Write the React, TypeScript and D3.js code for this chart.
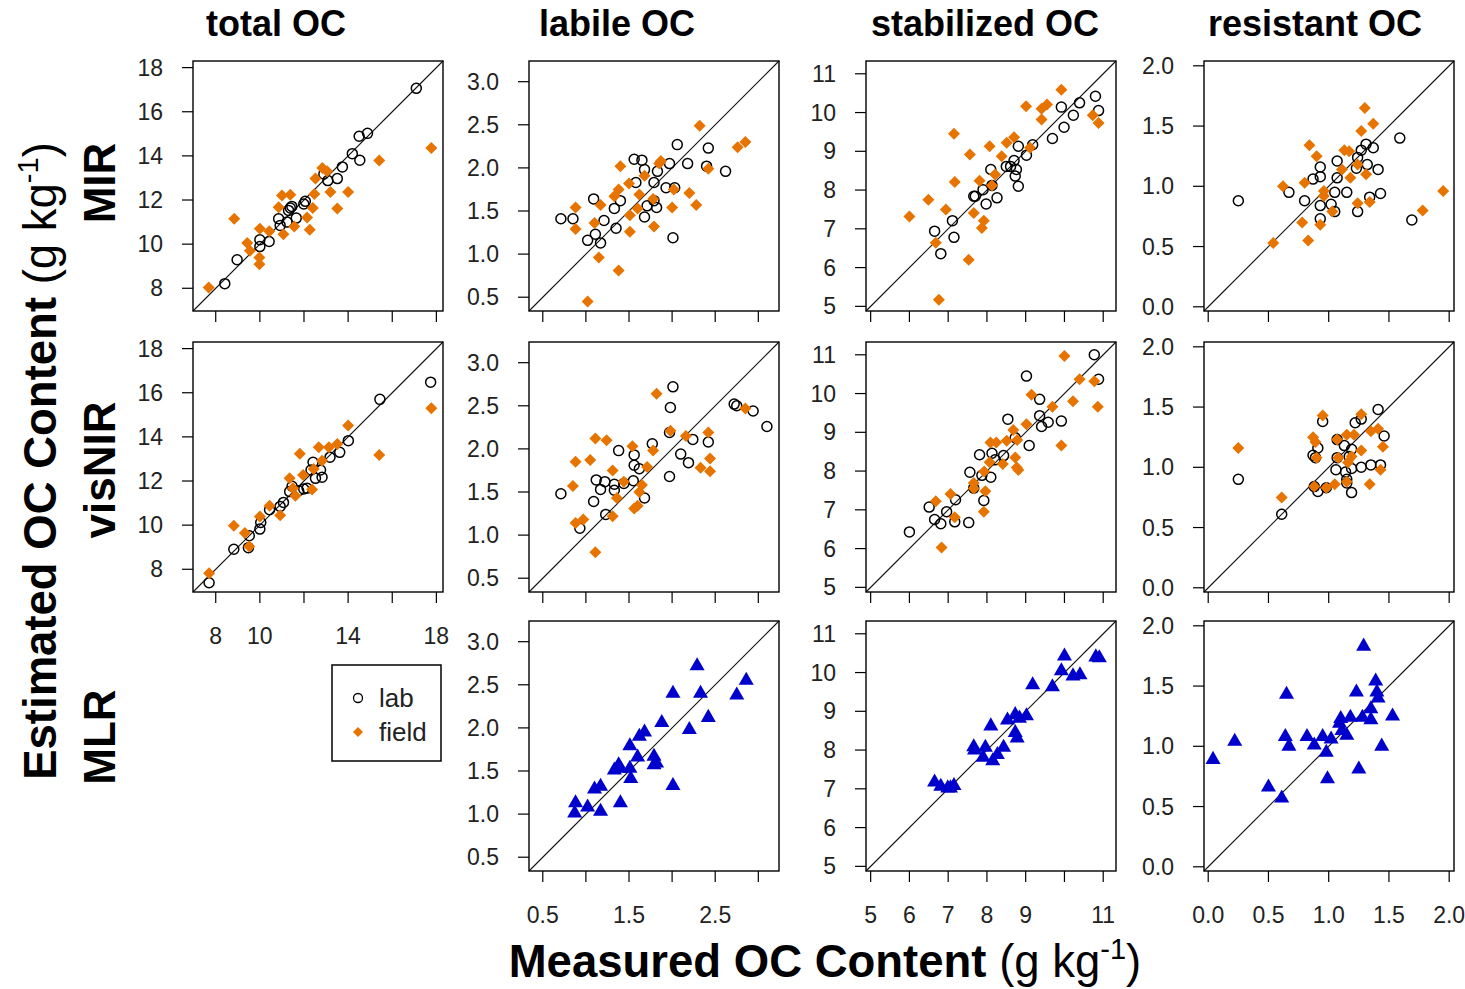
import React from "react";
import * as d3 from "d3";

// ---------- categories / labels ----------
const variableTitles = ["total OC", "labile OC", "stabilized OC", "resistant OC"];
const methodLabels = ["MIR", "visNIR", "MLR"];
const legendLabels = ["lab", "field"];

// axis domains per variable (same for measured & estimated)
const domainTotal = [6.97, 18.3];
const domainLabile = [0.34, 3.24];
const domainStab = [4.88, 11.33];
const domainResist = [-0.035, 2.04];

const ticksTotal = [8, 10, 12, 14, 16, 18];
const ticksLabile = [0.5, 1.0, 1.5, 2.0, 2.5, 3.0];
const ticksStab = [5, 6, 7, 8, 9, 10, 11];
const ticksResist = [0, 0.5, 1.0, 1.5, 2.0];

const yLabelsTotal = ["8", "10", "12", "14", "16", "18"];
const yLabelsLabile = ["0.5", "1.0", "1.5", "2.0", "2.5", "3.0"];
const yLabelsStab = ["5", "6", "7", "8", "9", "10", "11"];
const yLabelsResist = ["0.0", "0.5", "1.0", "1.5", "2.0"];

const xLabelsTotal = ["8", "10", "", "14", "", "18"];
const xLabelsLabile = ["0.5", "", "1.5", "", "2.5", ""];
const xLabelsStab = ["5", "6", "7", "8", "9", "", "11"];
const xLabelsResist = ["0.0", "0.5", "1.0", "1.5", "2.0"];

// ---------- data: [measured, estimated] ----------
const mirTotalLab = [
  [17.09, 17.06], [14.5, 14.89], [14.88, 15.02], [14.19, 14.1], [14.53, 13.8], [13.74, 13.5],
  [13.51, 12.97], [13.08, 12.88], [12.9, 13.18], [12.06, 11.94], [11.99, 11.82], [11.38, 11.64],
  [11.3, 11.53], [11.65, 11.18], [10.85, 11.15], [10.92, 10.85], [11.23, 11.0], [10.0, 10.2],
  [10.42, 10.12], [10.0, 9.89], [8.97, 9.29], [8.41, 8.21], [11.45, 11.71],
];
const mirTotalField = [
  [17.77, 14.36], [15.41, 13.79], [12.83, 13.45], [13.05, 13.3], [12.52, 12.97], [13.2, 12.36],
  [14.0, 12.36], [12.47, 12.27], [11.0, 12.21], [11.38, 12.24], [13.51, 11.61], [12.4, 11.64],
  [10.85, 11.67], [12.14, 11.21], [8.84, 11.15], [11.56, 10.8], [11.07, 10.45], [12.26, 10.65],
  [10.0, 10.7], [10.43, 10.58], [9.43, 10.05], [9.55, 9.7], [9.98, 9.39], [9.98, 9.09], [7.68, 8.03],
];
const mirLabileLab = [
  [0.71, 1.41], [0.85, 1.41], [1.02, 1.16], [1.11, 1.23], [1.17, 1.13], [1.21, 1.39], [1.09, 1.64],
  [1.35, 1.3], [1.33, 1.53], [1.4, 1.62], [1.56, 2.1], [1.65, 2.09], [1.68, 1.98], [1.58, 1.83],
  [1.68, 1.43], [1.71, 1.56], [1.79, 1.62], [1.82, 1.54], [1.79, 1.83], [1.83, 1.96], [1.93, 1.77],
  [2.03, 1.77], [1.97, 2.05], [2.06, 2.27], [2.01, 1.19], [2.18, 2.05], [2.42, 2.23], [2.4, 2.02],
  [2.62, 1.96],
];
const mirLabileField = [
  [0.88, 1.54], [0.88, 1.29], [1.1, 1.36], [1.17, 1.57], [1.15, 0.96], [1.38, 0.81], [1.02, 0.45],
  [1.4, 2.02], [1.33, 1.67], [1.38, 1.75], [1.51, 1.45], [1.51, 1.26], [1.5, 1.82], [1.62, 1.69],
  [1.6, 1.53], [1.68, 1.91], [1.79, 1.32], [1.78, 1.64], [1.85, 2.05], [1.87, 2.08], [2.0, 1.54],
  [2.02, 1.75], [2.2, 1.71], [2.28, 1.57], [2.32, 2.49], [2.42, 1.99], [2.76, 2.24], [2.85, 2.3],
];
const mirStabLab = [
  [10.8, 10.42], [10.88, 10.05], [10.39, 10.25], [10.23, 9.93], [9.92, 10.14], [9.99, 9.62],
  [9.69, 9.33], [9.18, 9.17], [9.02, 8.9], [8.81, 9.13], [8.7, 8.76], [8.61, 8.61], [8.5, 8.61],
  [8.76, 8.53], [8.73, 8.36], [8.81, 8.1], [8.1, 8.53], [8.13, 8.12], [7.9, 8.01], [7.66, 7.84],
  [7.7, 7.84], [8.26, 7.8], [7.98, 7.64], [7.11, 7.21], [6.65, 6.94], [7.15, 6.78], [6.81, 6.36],
];
const mirStabField = [
  [9.92, 10.59], [9.01, 10.16], [9.41, 10.1], [9.55, 10.21], [9.41, 9.82], [10.73, 9.93],
  [10.88, 9.73], [7.15, 9.45], [8.7, 9.36], [8.51, 9.22], [8.07, 9.13], [7.56, 8.92], [8.38, 8.87],
  [9.11, 9.09], [8.21, 8.4], [7.81, 8.24], [7.17, 8.21], [8.13, 8.12], [6.49, 7.75], [6.94, 7.5],
  [6.0, 7.32], [7.66, 7.41], [7.92, 7.21], [7.87, 7.02], [6.68, 6.64], [7.53, 6.2], [6.76, 5.17],
];
const mirResistLab = [
  [0.25, 0.88], [0.67, 0.95], [0.8, 0.88], [0.87, 1.06], [0.93, 1.16], [0.93, 1.08], [0.93, 0.84],
  [0.93, 0.73], [1.02, 0.85], [1.05, 0.79], [1.05, 0.95], [1.07, 1.21], [1.07, 1.07], [1.15, 0.95],
  [1.23, 1.15], [1.24, 0.79], [1.24, 1.24], [1.27, 1.3], [1.31, 1.35], [1.37, 1.32], [1.32, 1.18],
  [1.41, 1.14], [1.34, 0.91], [1.43, 0.94], [1.59, 1.4], [1.69, 0.72],
];
const mirResistField = [
  [1.3, 1.65], [1.37, 1.52], [1.27, 1.46], [0.84, 1.34], [0.9, 1.25], [1.13, 1.3], [1.17, 1.29],
  [1.11, 1.14], [1.18, 1.07], [1.24, 1.18], [1.31, 1.1], [0.62, 1.0], [0.8, 1.03], [0.96, 0.96],
  [0.96, 0.92], [1.24, 0.86], [1.34, 0.87], [0.78, 0.7], [0.93, 0.68], [0.83, 0.55], [0.54, 0.53],
  [1.03, 0.79], [1.78, 0.8], [1.95, 0.96],
];
const visTotalLab = [
  [17.74, 16.48], [15.44, 15.7], [14.01, 13.83], [13.62, 13.3], [13.18, 13.08], [12.75, 12.5],
  [12.82, 12.17], [12.41, 12.85], [12.32, 12.5], [12.52, 12.12], [12.14, 11.67], [11.99, 11.64],
  [11.76, 11.56], [11.46, 11.76], [11.35, 11.52], [11.07, 11.03], [10.92, 10.85], [10.44, 10.7],
  [10.04, 10.12], [10.0, 9.82], [9.52, 9.52], [9.48, 8.98], [8.82, 8.91], [7.7, 7.39],
];
const visTotalField = [
  [17.77, 15.3], [15.41, 13.18], [14.0, 14.52], [12.67, 13.53], [13.13, 13.53], [13.51, 13.68],
  [11.81, 13.23], [11.96, 12.27], [12.44, 12.55], [11.35, 12.12], [11.5, 11.67], [11.61, 11.33],
  [12.37, 11.61], [10.44, 10.88], [10.92, 10.45], [10.0, 10.39], [8.82, 9.97], [9.32, 9.64],
  [9.52, 9.03], [7.7, 7.82], [12.82, 12.92],
];
const visLabileLab = [
  [2.01, 2.72], [1.98, 2.48], [2.72, 2.52], [2.75, 2.5], [2.94, 2.44], [3.1, 2.26], [1.97, 2.19],
  [2.24, 2.11], [2.42, 2.08], [2.1, 1.94], [2.19, 1.84], [1.97, 1.68], [1.77, 2.06], [1.38, 1.98],
  [1.56, 1.93], [1.56, 1.81], [1.62, 1.77], [1.55, 1.63], [1.44, 1.6], [1.33, 1.59], [1.22, 1.62],
  [1.12, 1.64], [1.17, 1.53], [1.33, 1.52], [1.09, 1.39], [1.23, 1.24], [1.68, 1.43], [0.71, 1.48],
  [0.93, 1.08],
];
const visLabileField = [
  [1.82, 2.64], [1.98, 2.21], [2.16, 2.15], [2.42, 2.19], [2.85, 2.47], [1.11, 2.12], [1.24, 2.1],
  [0.88, 1.85], [1.05, 1.87], [1.31, 1.75], [1.54, 2.03], [1.78, 1.98], [1.71, 1.79], [1.44, 1.62],
  [1.65, 1.58], [1.62, 1.5], [1.36, 1.43], [1.6, 1.34], [1.56, 1.31], [1.31, 1.22], [0.85, 1.57],
  [0.88, 1.14], [0.97, 1.18], [1.11, 0.8], [2.33, 1.78], [2.44, 1.89], [2.44, 1.74],
];
const visStabLab = [
  [10.77, 11.0], [10.88, 10.37], [9.02, 10.45], [9.36, 9.85], [9.36, 9.43], [9.41, 9.15],
  [9.58, 9.26], [9.92, 9.29], [9.09, 8.66], [8.73, 8.86], [8.54, 9.34], [8.43, 8.4], [8.13, 8.46],
  [8.21, 8.29], [7.81, 8.42], [7.56, 7.97], [7.87, 7.89], [8.1, 7.84], [7.66, 7.56], [7.92, 7.24],
  [7.19, 7.26], [6.96, 6.95], [6.51, 7.07], [6.65, 6.75], [6.81, 6.64], [7.17, 6.69], [7.53, 6.67],
  [6.0, 6.43],
];
const visStabField = [
  [10.0, 10.97], [10.39, 10.37], [10.77, 10.32], [10.86, 9.66], [10.22, 9.8], [9.15, 9.97],
  [9.69, 9.66], [9.02, 9.21], [9.92, 8.66], [8.68, 9.06], [8.78, 8.8], [8.51, 8.78], [8.09, 8.74],
  [8.24, 8.74], [8.73, 8.35], [8.77, 8.09], [8.81, 8.03], [8.41, 8.18], [8.07, 8.23], [7.93, 7.99],
  [7.66, 7.69], [7.66, 7.55], [7.96, 7.48], [7.92, 6.95], [7.06, 7.41], [6.68, 7.22], [7.17, 6.81],
  [6.83, 6.03],
];
const visResistLab = [
  [0.25, 0.9], [0.61, 0.61], [0.95, 1.38], [0.91, 1.16], [0.87, 1.1], [0.89, 1.08], [0.88, 0.84],
  [0.91, 0.8], [0.98, 0.83], [1.07, 1.23], [1.13, 1.18], [1.19, 1.15], [1.06, 0.98], [1.14, 0.96],
  [1.15, 0.9], [1.15, 0.87], [1.19, 0.99], [1.19, 0.79], [1.27, 1.0], [1.35, 1.02], [1.43, 1.02],
  [1.22, 1.37], [1.27, 1.4], [1.41, 1.48], [1.46, 1.26], [1.07, 1.08], [1.17, 1.09],
];
const visResistField = [
  [0.25, 1.16], [0.61, 0.75], [0.95, 1.43], [0.87, 1.25], [0.89, 1.21], [0.9, 1.08], [1.07, 1.23],
  [1.08, 1.08], [1.15, 1.27], [1.21, 1.27], [1.27, 1.44], [1.27, 1.14], [1.35, 1.3], [1.41, 1.32],
  [1.45, 1.17], [1.43, 0.98], [1.16, 1.04], [1.05, 0.86], [0.98, 0.83], [0.88, 0.84], [1.34, 0.86],
  [1.15, 0.88], [1.19, 1.09],
];
const mlrLabile = [
  [2.29, 2.72], [2.86, 2.55], [2.01, 2.4], [2.33, 2.4], [2.75, 2.38], [2.42, 2.12], [1.88, 2.06],
  [2.2, 1.98], [1.68, 1.95], [1.62, 1.9], [1.51, 1.79], [1.6, 1.66], [1.79, 1.67], [1.82, 1.59],
  [1.79, 1.57], [1.38, 1.57], [1.4, 1.53], [1.33, 1.51], [1.51, 1.53], [1.52, 1.41], [2.01, 1.33],
  [1.17, 1.32], [1.1, 1.29], [1.4, 1.13], [0.88, 1.13], [1.02, 1.08], [0.87, 1.01], [1.17, 1.03],
];
const mlrStab = [
  [10.0, 10.42], [10.81, 10.4], [10.9, 10.38], [9.92, 10.04], [10.22, 9.91], [10.4, 9.94],
  [9.18, 9.68], [9.69, 9.63], [8.1, 8.62], [8.53, 8.77], [8.73, 8.91], [8.84, 8.82], [9.02, 8.88],
  [8.73, 8.45], [8.78, 8.31], [7.66, 8.08], [7.68, 8.0], [7.96, 8.07], [8.43, 8.07], [7.9, 7.81],
  [8.15, 7.72], [8.27, 7.88], [6.65, 7.17], [6.81, 7.06], [7.06, 7.02], [7.15, 7.08], [6.99, 7.02],
];
const mlrResist = [
  [1.29, 1.83], [0.65, 1.43], [1.23, 1.45], [1.39, 1.54], [1.4, 1.45], [1.41, 1.4], [1.35, 1.31],
  [1.53, 1.25], [1.28, 1.24], [1.35, 1.22], [1.18, 1.24], [1.1, 1.23], [1.09, 1.19], [1.11, 1.13],
  [1.15, 1.09], [1.02, 1.06], [0.95, 1.08], [0.82, 1.08], [0.64, 1.08], [0.67, 1.0], [0.88, 1.01],
  [0.98, 0.95], [1.44, 1.0], [0.22, 1.04], [0.04, 0.89], [1.25, 0.81], [0.99, 0.73], [0.5, 0.66],
  [0.61, 0.57],
];

// ---------- layout / style ----------
const W = 1465;
const H = 989;
const PANEL = 250;
const colLeft = [193, 529, 866, 1204];
const rowTop = [61, 342, 621];
const titleX = [276, 617, 985, 1315];
const rowLabelY = [183, 470, 737];
const FONT = "'Liberation Sans', Arial, Helvetica, sans-serif";
const ORANGE = "#E87400";
const BLUE = "#0000CD";
const TEXT = "#222";
const TICK = 11;

const axes = [
  { domain: domainTotal, ticks: ticksTotal, yl: yLabelsTotal, xl: xLabelsTotal },
  { domain: domainLabile, ticks: ticksLabile, yl: yLabelsLabile, xl: xLabelsLabile },
  { domain: domainStab, ticks: ticksStab, yl: yLabelsStab, xl: xLabelsStab },
  { domain: domainResist, ticks: ticksResist, yl: yLabelsResist, xl: xLabelsResist },
];

type Pt = number[];
type PanelSpec = { row: number; col: number; lab?: Pt[]; field?: Pt[]; mlr?: Pt[]; xLabels: boolean };

const panels: PanelSpec[] = [
  { row: 0, col: 0, lab: mirTotalLab, field: mirTotalField, xLabels: false },
  { row: 0, col: 1, lab: mirLabileLab, field: mirLabileField, xLabels: false },
  { row: 0, col: 2, lab: mirStabLab, field: mirStabField, xLabels: false },
  { row: 0, col: 3, lab: mirResistLab, field: mirResistField, xLabels: false },
  { row: 1, col: 0, lab: visTotalLab, field: visTotalField, xLabels: true },
  { row: 1, col: 1, lab: visLabileLab, field: visLabileField, xLabels: false },
  { row: 1, col: 2, lab: visStabLab, field: visStabField, xLabels: false },
  { row: 1, col: 3, lab: visResistLab, field: visResistField, xLabels: false },
  { row: 2, col: 1, mlr: mlrLabile, xLabels: true },
  { row: 2, col: 2, mlr: mlrStab, xLabels: true },
  { row: 2, col: 3, mlr: mlrResist, xLabels: true },
];

const diamond = (r: number) => `M0,${-r}L${r},0L0,${r}L${-r},0Z`;
const triangle = d3.symbol().type(d3.symbolTriangle).size(98)() as string;

function Panel({ spec }: { spec: PanelSpec }) {
  const ax = axes[spec.col];
  const left = colLeft[spec.col];
  const top = rowTop[spec.row];
  const x = d3.scaleLinear().domain(ax.domain).range([left, left + PANEL]);
  const y = d3.scaleLinear().domain(ax.domain).range([top + PANEL, top]);
  const [d0, d1] = ax.domain;
  const bottom = top + PANEL;
  return (
    <g>
      {ax.ticks.map((t, i) => (
        <g key={"yt" + i}>
          <line x1={left - TICK} x2={left} y1={y(t)} y2={y(t)} stroke="#000" strokeWidth={1.2} />
          <text x={left - 30} y={y(t)} dy="0.35em" textAnchor="end" fontSize={23} fill={TEXT} fontFamily={FONT}>
            {ax.yl[i]}
          </text>
        </g>
      ))}
      {ax.ticks.map((t, i) => (
        <g key={"xt" + i}>
          <line x1={x(t)} x2={x(t)} y1={bottom} y2={bottom + TICK} stroke="#000" strokeWidth={1.2} />
          {spec.xLabels && ax.xl[i] ? (
            <text x={x(t)} y={bottom + 44} dy="0.35em" textAnchor="middle" fontSize={23} fill={TEXT} fontFamily={FONT}>
              {ax.xl[i]}
            </text>
          ) : null}
        </g>
      ))}
      <line x1={x(d0)} y1={y(d0)} x2={x(d1)} y2={y(d1)} stroke="#111" strokeWidth={1.1} />
      {(spec.lab || []).map((p, i) => (
        <circle key={"l" + i} cx={x(p[0])} cy={y(p[1])} r={5} fill="none" stroke="#000" strokeWidth={1.5} />
      ))}
      {(spec.field || []).map((p, i) => (
        <path key={"f" + i} d={diamond(6)} transform={`translate(${x(p[0])},${y(p[1])})`} fill={ORANGE} />
      ))}
      {(spec.mlr || []).map((p, i) => (
        <path key={"m" + i} d={triangle} transform={`translate(${x(p[0])},${y(p[1])})`} fill={BLUE} />
      ))}
      <rect x={left} y={top} width={PANEL} height={PANEL} fill="none" stroke="#000" strokeWidth={1.4} />
    </g>
  );
}

export default function App() {
  return (
    <svg width={W} height={H} style={{ position: "absolute", left: 0, top: 0, background: "#fff" }} fontFamily={FONT}>
      <rect x={0} y={0} width={W} height={H} fill="#fff" />
      {variableTitles.map((t, i) => (
        <text key={t} x={titleX[i]} y={36} textAnchor="middle" fontSize={36} fontWeight="bold" fill="#000">
          {t}
        </text>
      ))}
      {methodLabels.map((m, i) => (
        <text key={m} transform={`translate(115,${rowLabelY[i]}) rotate(-90)`} textAnchor="middle" fontSize={44} fontWeight="bold" fill="#000">
          {m}
        </text>
      ))}
      <text transform="translate(56,461) rotate(-90)" textAnchor="middle" fontSize={45.5} fill="#000">
        <tspan fontWeight="bold">Estimated OC Content</tspan>
        <tspan> (g kg</tspan>
        <tspan fontSize={29} dy={-18}>-1</tspan>
        <tspan dy={18}>)</tspan>
      </text>
      <text x={825} y={977} textAnchor="middle" fontSize={45.5} fill="#000">
        <tspan fontWeight="bold">Measured OC Content</tspan>
        <tspan> (g kg</tspan>
        <tspan fontSize={29} dy={-18}>-1</tspan>
        <tspan dy={18}>)</tspan>
      </text>
      {panels.map((p, i) => (
        <Panel key={i} spec={p} />
      ))}
      <g>
        <rect x={332} y={665} width={109} height={96} fill="#fff" stroke="#000" strokeWidth={1.5} />
        <circle cx={358} cy={698} r={4.5} fill="none" stroke="#000" strokeWidth={1.3} />
        <path d={diamond(5)} transform="translate(358,732)" fill={ORANGE} />
        <text x={379} y={698} dy="0.35em" fontSize={26} fill={TEXT}>{legendLabels[0]}</text>
        <text x={379} y={732} dy="0.35em" fontSize={26} fill={TEXT}>{legendLabels[1]}</text>
      </g>
    </svg>
  );
}
